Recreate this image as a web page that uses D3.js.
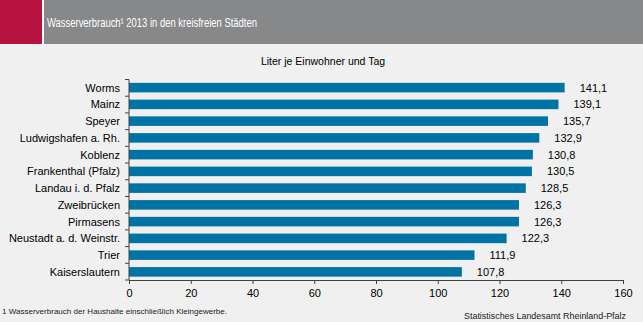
<!DOCTYPE html>
<html><head><meta charset="utf-8">
<script src="https://cdn.jsdelivr.net/npm/d3@7"></script>
<style>
html,body{margin:0;padding:0;background:#eff0ef;}
svg{display:block;font-family:Arial,"Liberation Sans",sans-serif;}
</style></head>
<body><svg id="c" width="643" height="322"></svg>
<script>
const cities = ["Worms","Mainz","Speyer","Ludwigshafen a. Rh.","Koblenz","Frankenthal (Pfalz)","Landau i. d. Pfalz","Zweibrücken","Pirmasens","Neustadt a. d. Weinstr.","Trier","Kaiserslautern"];
const values = [141.1,139.1,135.7,132.9,130.8,130.5,128.5,126.3,126.3,122.3,111.9,107.8];
const xTicks = [0,20,40,60,80,100,120,140,160];
const title = "Wasserverbrauch¹ 2013 in den kreisfreien Städten";
const subtitle = "Liter je Einwohner und Tag";
const footnote = "1 Wasserverbrauch der Haushalte einschließlich Kleingewerbe.";
const source = "Statistisches Landesamt Rheinland-Pfalz";

const svg = d3.select("#c");
svg.append("rect").attr("x",0).attr("y",0).attr("width",643).attr("height",322).attr("fill","#eff0ef");
svg.append("rect").attr("x",0).attr("y",0).attr("width",42).attr("height",44).attr("fill","#b5123f");
svg.append("rect").attr("x",42).attr("y",0).attr("width",2).attr("height",44).attr("fill","#ffffff");
svg.append("rect").attr("x",44).attr("y",0).attr("width",599).attr("height",44).attr("fill","#878889");
svg.append("text").attr("x",47).attr("y",27).attr("fill","#ffffff").attr("font-size",13)
  .attr("textLength",210).attr("lengthAdjust","spacingAndGlyphs").text(title);

const x = d3.scaleLinear().domain([0,160]).range([129,623]);
const y = d3.scaleBand().domain(cities).range([79.5,280]).paddingInner(0.43).paddingOuter(0.2);

svg.append("text").attr("x",323).attr("y",65).attr("text-anchor","middle").attr("font-size",10.5).attr("fill","#000")
  .text(subtitle);

svg.selectAll("rect.bar").data(values).enter().append("rect").attr("class","bar")
  .attr("x",x(0)).attr("y",(d,i)=>y(cities[i])).attr("width",d=>x(d)-x(0)).attr("height",y.bandwidth())
  .attr("fill","#0073a5");

svg.selectAll("text.val").data(values).enter().append("text").attr("class","val")
  .attr("x",d=>x(d)+15).attr("y",(d,i)=>y(cities[i])+y.bandwidth()/2).attr("dy","0.36em")
  .attr("font-size",11).attr("fill","#000").text(d=>d3.format(".1f")(d).replace(".",","));

// y axis
const yStep = y.step();
const yg = svg.append("g");
yg.append("line").attr("x1",129).attr("x2",129).attr("y1",79.5).attr("y2",280).attr("stroke","#404040");
d3.range(cities.length+1).forEach(i=>{
  const yy = 79.5 + i*(200.5/cities.length);
  yg.append("line").attr("x1",125).attr("x2",129).attr("y1",yy).attr("y2",yy).attr("stroke","#404040");
});
yg.selectAll("text").data(cities).enter().append("text")
  .attr("x",120).attr("y",d=>y(d)+y.bandwidth()/2).attr("dy","0.36em").attr("text-anchor","end")
  .attr("font-size",11).attr("fill","#000").text(d=>d);

// x axis
const xg = svg.append("g").attr("transform","translate(0,280)");
xg.call(d3.axisBottom(x).tickValues(xTicks).tickSize(4).tickSizeOuter(0).tickFormat(d3.format("d")));
xg.select(".domain").attr("stroke","#404040");
xg.selectAll(".tick line").attr("stroke","#404040");
xg.selectAll(".tick text").attr("font-size",11).attr("fill","#000").attr("font-family","Arial,'Liberation Sans',sans-serif").attr("dy","0.9em");

svg.append("text").attr("x",2).attr("y",314).attr("font-size",8).attr("fill","#222")
  .attr("textLength",225).attr("lengthAdjust","spacingAndGlyphs").text(footnote);
svg.append("text").attr("x",626).attr("y",319).attr("font-size",9).attr("fill","#222").attr("text-anchor","end")
  .attr("textLength",162).attr("lengthAdjust","spacingAndGlyphs").text(source);
</script></body></html>
